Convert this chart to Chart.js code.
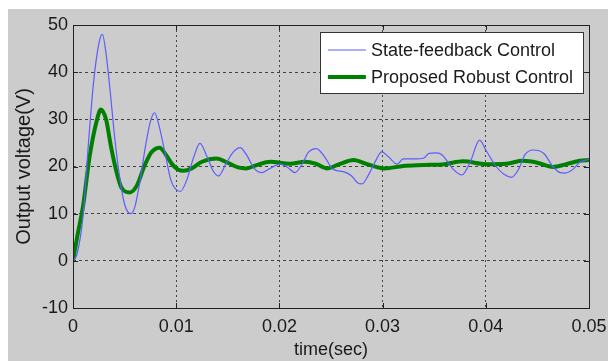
<!DOCTYPE html>
<html>
<head>
<meta charset="utf-8">
<script src="https://cdn.jsdelivr.net/npm/chart.js@4/dist/chart.umd.min.js"></script>
<style>
  html, body { margin: 0; padding: 0; background: #ffffff; }
  #wrap { position: absolute; left: 8px; top: 9px; width: 600px; height: 352px; background: #cccccc; }
  canvas { display: block; }
</style>
</head>
<body>
<div id="wrap"><canvas id="c" width="600" height="352"></canvas></div>
<script>
// ---- data ----
const seriesLabels = ['State-feedback Control', 'Proposed Robust Control'];

const tState = [0, 0.0004, 0.001, 0.0015, 0.002, 0.0025, 0.00284, 0.0032, 0.0036, 0.004, 0.0045, 0.005, 0.0056, 0.006, 0.0065, 0.007, 0.0075, 0.0079, 0.0083, 0.009, 0.0095, 0.0104, 0.011, 0.0117, 0.0123, 0.013, 0.0136, 0.0141, 0.0148, 0.0155, 0.0162, 0.0168, 0.0176, 0.0183, 0.019, 0.0201, 0.0208, 0.0215, 0.0222, 0.0228, 0.0236, 0.0244, 0.0252, 0.0262, 0.027, 0.0276, 0.028, 0.0287, 0.0294, 0.0299, 0.0306, 0.0314, 0.032, 0.033, 0.034, 0.0345, 0.0352, 0.0358, 0.0363, 0.0368, 0.0377, 0.0385, 0.0394, 0.04, 0.041, 0.0418, 0.0425, 0.0432, 0.0438, 0.0446, 0.0456, 0.0465, 0.0472, 0.0477, 0.0485, 0.0491, 0.05];
const vState = [0, 1.5, 10, 25, 38, 46, 48, 44, 36, 27, 18, 12, 10, 11.5, 17, 24, 29.5, 31.4, 29, 22, 17, 14.7, 17, 22, 24.9, 22, 19, 18, 20.5, 23, 24, 22.5, 19.5, 18.7, 19.5, 20.5, 19.8, 18.7, 20.5, 23, 23.8, 22, 19.4, 18.9, 18, 16.5, 16.3, 18.5, 21.5, 23.1, 22, 20.5, 21.6, 21.6, 21.8, 22.8, 22.9, 22.4, 21, 19.5, 18.2, 21, 25.6, 23.5, 20, 18.3, 17.7, 19.5, 22.5, 23.5, 22.8, 20, 18.7, 18.6, 19.5, 20.9, 21.5];

const tRobust = [0, 0.0004, 0.001, 0.0016, 0.0023, 0.0027, 0.0032, 0.0037, 0.0042, 0.0047, 0.0055, 0.0062, 0.0069, 0.0076, 0.0084, 0.009, 0.0096, 0.0102, 0.0107, 0.0115, 0.0125, 0.0139, 0.015, 0.016, 0.0168, 0.0178, 0.0191, 0.021, 0.0225, 0.0235, 0.0246, 0.0258, 0.0272, 0.0285, 0.0302, 0.032, 0.034, 0.036, 0.0378, 0.04, 0.042, 0.0436, 0.045, 0.0465, 0.0478, 0.0491, 0.05];
const vRobust = [0, 5, 12, 22, 29.7, 32.1, 30, 24, 19, 15.5, 14.5, 16, 20, 23, 24, 22.5, 20.5, 19.3, 19.1, 19.6, 21, 21.7, 20.8, 19.8, 19.6, 20.3, 21, 20.6, 21, 20.6, 19.6, 20.5, 21.4, 20.5, 19.6, 20.1, 20.3, 20.5, 21.1, 20.5, 20.6, 21.2, 20.8, 19.9, 20.5, 21.2, 21.4];

const xTicks = [0, 0.01, 0.02, 0.03, 0.04, 0.05];
const xTickLabels = ['0', '0.01', '0.02', '0.03', '0.04', '0.05'];
const yTicks = [-10, 0, 10, 20, 30, 40, 50];
const yTickLabels = ['-10', '0', '10', '20', '30', '40', '50'];
const xTitle = 'time(sec)';
const yTitle = 'Output voltage(V)';

// ---- chart ----
const FONT = "'Liberation Sans', Arial, sans-serif";
const TXT = '#1a1a1a';

const frameAndLegend = {
  id: 'frameAndLegend',
  afterDatasetsDraw(chart) {
    const { ctx, chartArea: a, scales } = chart;
    ctx.save();
    // inward tick marks on all four sides
    ctx.strokeStyle = '#222';
    ctx.lineWidth = 1;
    const tl = 5;
    ctx.beginPath();
    xTicks.forEach(v => {
      const px = Math.round(scales.x.getPixelForValue(v)) + 0.5;
      ctx.moveTo(px, a.bottom); ctx.lineTo(px, a.bottom - tl);
      ctx.moveTo(px, a.top); ctx.lineTo(px, a.top + tl);
    });
    yTicks.forEach(v => {
      const py = Math.round(scales.y.getPixelForValue(v)) + 0.5;
      ctx.moveTo(a.left, py); ctx.lineTo(a.left + tl, py);
      ctx.moveTo(a.right, py); ctx.lineTo(a.right - tl, py);
    });
    ctx.stroke();
    // axes box
    ctx.strokeStyle = '#222';
    ctx.strokeRect(Math.round(a.left) + 0.5, Math.round(a.top) + 0.5,
                   Math.round(a.right - a.left), Math.round(a.bottom - a.top));

    // legend
    ctx.font = '18px ' + FONT;
    const textW = Math.max(...chart.data.datasets.map(d => ctx.measureText(d.label).width));
    const sample = 38;
    const w = 8 + sample + 5 + textW + 10;
    const h = 61;
    const right = a.right - 6;
    const left = right - w;
    const top = a.top + 7;
    ctx.fillStyle = '#ffffff';
    ctx.fillRect(left, top, w, h);
    ctx.strokeStyle = '#333';
    ctx.lineWidth = 1;
    ctx.strokeRect(Math.round(left) + 0.5, Math.round(top) + 0.5, Math.round(w), h);
    const rows = [top + 18, top + 45];
    chart.data.datasets.forEach((d, i) => {
      const y = rows[i];
      ctx.strokeStyle = d.borderColor;
      ctx.lineWidth = d.borderWidth;
      ctx.beginPath();
      ctx.moveTo(left + 8, y); ctx.lineTo(left + 8 + sample, y);
      ctx.stroke();
      ctx.fillStyle = TXT;
      ctx.textBaseline = 'middle';
      ctx.textAlign = 'left';
      ctx.fillText(d.label, left + 8 + sample + 5, y + 1);
    });
    ctx.restore();
  }
};

function zeroPad(s) { s.paddingLeft = 0; s.paddingRight = 0; s.paddingTop = 0; s.paddingBottom = 0; }

new Chart(document.getElementById('c'), {
  type: 'line',
  data: {
    datasets: [
      {
        label: seriesLabels[0],
        data: tState.map((t, i) => ({ x: t, y: vState[i] })),
        borderColor: '#5c5cff',
        borderWidth: 1.2,
        pointRadius: 0,
        cubicInterpolationMode: 'monotone',
        fill: false
      },
      {
        label: seriesLabels[1],
        data: tRobust.map((t, i) => ({ x: t, y: vRobust[i] })),
        borderColor: '#008000',
        borderWidth: 4,
        pointRadius: 0,
        cubicInterpolationMode: 'monotone',
        fill: false
      }
    ]
  },
  options: {
    responsive: false,
    animation: false,
    events: [],
    layout: { padding: { left: 0, top: 16, right: 19, bottom: 0 } },
    plugins: { legend: { display: false }, tooltip: { enabled: false } },
    scales: {
      x: {
        type: 'linear',
        min: 0, max: 0.05,
        afterBuildTicks: s => { s.ticks = xTicks.map(v => ({ value: v })); },
        afterFit: s => { s.height = 53; zeroPad(s); },
        ticks: {
          callback: (v, i) => xTickLabels[i],
          color: TXT,
          font: { family: FONT, size: 18 },
          padding: 8,
          maxRotation: 0,
          autoSkip: false
        },
        grid: { color: '#444', lineWidth: 1, drawTicks: false, borderDash: [2, 3] },
        border: { display: false, dash: [2, 3] },
        title: { display: true, text: xTitle, color: TXT, font: { family: FONT, size: 18 }, padding: { top: 0, bottom: 0 } }
      },
      y: {
        type: 'linear',
        min: -10, max: 50,
        afterBuildTicks: s => { s.ticks = yTicks.map(v => ({ value: v })); },
        afterFit: s => { s.width = 65; zeroPad(s); },
        ticks: {
          callback: (v, i) => yTickLabels[i],
          color: TXT,
          font: { family: FONT, size: 18 },
          padding: 5,
          autoSkip: false
        },
        grid: { color: '#444', lineWidth: 1, drawTicks: false, borderDash: [3, 3] },
        border: { display: false, dash: [3, 3] },
        title: { display: true, text: yTitle, color: TXT, font: { family: FONT, size: 20 }, padding: { top: 4, bottom: 0 } }
      }
    }
  },
  plugins: [frameAndLegend]
});
</script>
</body>
</html>
